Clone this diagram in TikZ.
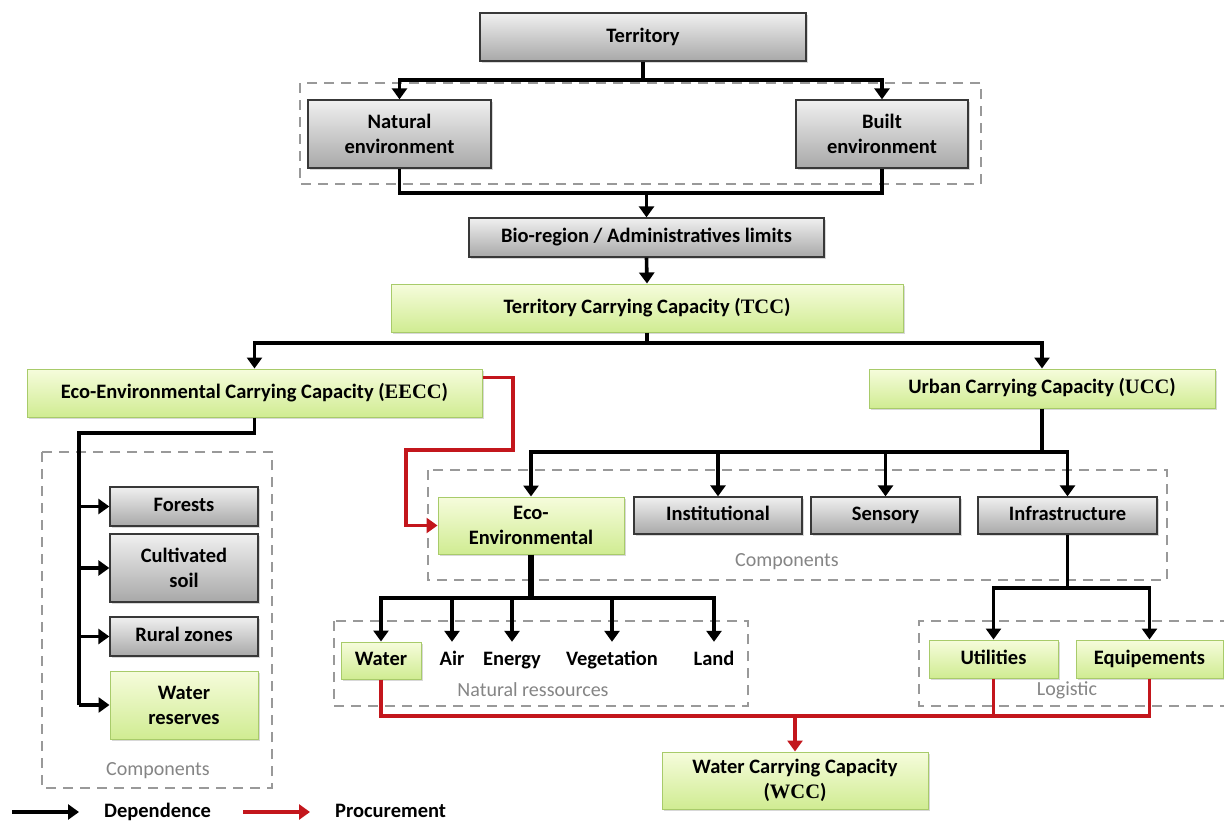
\documentclass[tikz,border=0pt]{standalone}
\usepackage{fontspec}
\setmainfont{Carlito}
\newfontfamily\serifacr{Liberation Serif}
\usetikzlibrary{arrows.meta,shadows}
\newcommand\acrn[1]{{\serifacr\bfseries #1}}
\definecolor{gtop}{HTML}{F0F0F0}
\definecolor{gbot}{HTML}{A8A8A8}
\definecolor{ltop}{HTML}{F6FCDC}
\definecolor{lbot}{HTML}{D0EC92}
\definecolor{lborder}{HTML}{A8CB6A}
\definecolor{redc}{HTML}{C3161C}
\definecolor{dashc}{HTML}{999999}
\begin{document}
\begin{tikzpicture}[x=1pt,y=-1pt,
 boxbase/.style={rectangle, inner sep=0pt, align=center, font=\fontsize{20.5}{25}\selectfont\bfseries, text=black},
 oneline/.style={text height=14pt, text depth=4pt},
 shad/.style={drop shadow={opacity=0.3,shadow xshift=2pt,shadow yshift=-2pt}},
 graybox/.style={boxbase, shad, draw=black!78, line width=1.3pt, top color=gtop, bottom color=gbot},
 greenbox/.style={boxbase, shad, draw=lborder, line width=1pt, top color=ltop, bottom color=lbot},
 txt/.style={boxbase, oneline},
 conn/.style={line width=3.6pt, black},
 dep/.style={conn, -{Triangle[width=15pt,length=11pt]}},
 redline/.style={line width=3.3pt, redc},
 proc/.style={redline, -{Triangle[width=15pt,length=11pt]}},
 grp/.style={draw=dashc, line width=2.4pt, dash pattern=on 10pt off 7pt},
 grplabel/.style={font=\fontsize{20}{24}\selectfont, text=black!48},
]
\useasboundingbox (0,0) rectangle (1224,825);
\fill[white] (0,0) rectangle (1224,825);

% dashed groups
\draw[grp] (300,83) rectangle (981,184);
\draw[grp] (42,452) rectangle (272,788);
\draw[grp] (428,470) rectangle (1167,580);
\draw[grp] (334,621) rectangle (748,706);
\draw[grp] (1230,621) -- (919,621) -- (919,706) -- (1230,706);

% group labels
\node[grplabel] (lblcomp1) at (158,771) {Components};
\node[grplabel] (lblcomp2) at (787,562) {Components};
\node[grplabel] (lblnat) at (533,690) {Natural ressources};
\node[grplabel] (lbllog) at (1067,690) {Logistic};

% boxes
\node[graybox, oneline, minimum width=326, minimum height=48] (terr) at (643,37) {Territory};
\node[graybox, minimum width=183, minimum height=68] (nat) at (399.5,134) {Natural\\environment};
\node[graybox, minimum width=172, minimum height=68] (built) at (882,134) {Built\\environment};
\node[graybox, oneline, minimum width=355, minimum height=39] (bio) at (646.5,237.5) {Bio-region / Administratives limits};
\node[greenbox, oneline, minimum width=512, minimum height=48] (tcc) at (647,308) {Territory Carrying Capacity (\acrn{TCC})};
\node[greenbox, oneline, minimum width=455, minimum height=48] (eecc) at (254.5,393) {Eco-Environmental Carrying Capacity (\acrn{EECC})};
\node[greenbox, oneline, minimum width=346, minimum height=39] (ucc) at (1042,388.5) {Urban Carrying Capacity (\acrn{UCC})};

\node[graybox, oneline, minimum width=148, minimum height=39] (forests) at (184,506.5) {Forests};
\node[graybox, minimum width=148, minimum height=68] (cult) at (184,568) {Cultivated\\soil};
\node[graybox, oneline, minimum width=148, minimum height=39] (rural) at (184,636.5) {Rural zones};
\node[greenbox, minimum width=148, minimum height=68] (wres) at (184,705) {Water\\reserves};

\node[greenbox, minimum width=186, minimum height=57] (eco) at (531,525.5) {Eco-\\Environmental};
\node[graybox, oneline, minimum width=168, minimum height=37] (inst) at (718,515.5) {Institutional};
\node[graybox, oneline, minimum width=149, minimum height=37] (sens) at (885.5,515.5) {Sensory};
\node[graybox, oneline, minimum width=179, minimum height=37] (infra) at (1067.5,515.5) {Infrastructure};

\node[greenbox, oneline, minimum width=80, minimum height=37] (water) at (381,660.5) {Water};
\node[txt, minimum height=37] (air) at (452,660.5) {Air};
\node[txt, minimum height=37] (energy) at (512,660.5) {Energy};
\node[txt, minimum height=37] (veg) at (612,660.5) {Vegetation};
\node[txt, minimum height=37] (land) at (714,660.5) {Land};

\node[greenbox, oneline, minimum width=129, minimum height=38] (util) at (993.5,659) {Utilities};
\node[greenbox, oneline, minimum width=147, minimum height=38] (equip) at (1149.5,659) {Equipements};

\node[greenbox, minimum width=266, minimum height=57] (wcc) at (795,780.5) {Water Carrying Capacity\\(\acrn{WCC})};

% connectors: top
\coordinate (t1) at (643,80);
\draw[conn] (terr.south) -- (t1);
\draw[dep] (t1) -| (nat.north);
\draw[dep] (t1) -| (built.north);
\coordinate (m1) at (646.5,193);
\draw[conn] (nat.south) |- (m1) -| (built.south);
\draw[dep] (m1) -- (bio.north);
\draw[dep] (bio.south) -- (tcc.north);
\coordinate (t2) at (647,343);
\draw[conn] (tcc.south) -- (t2);
\draw[dep] (t2) -| (eecc.north);
\draw[dep] (t2) -| (ucc.north);

% EECC components
\coordinate (lv) at (79,433);
\draw[conn] (eecc.south) |- (lv) -- (lv |- wres.west);
\draw[dep] (lv |- forests.west) -- (forests.west);
\draw[dep] (lv |- cult.west) -- (cult.west);
\draw[dep] (lv |- rural.west) -- (rural.west);
\draw[dep] (lv |- wres.west) -- (wres.west);

% procurement EECC -> Eco-Environmental
\coordinate (r1) at (513,450);
\coordinate (r2) at (406,525.5);
\draw[proc] ([yshift=-9pt]eecc.north east) -| (r1) -| (r2) -- (eco.west);

% UCC components
\coordinate (u1) at (1042,452);
\draw[conn] (ucc.south) -- (u1);
\draw[dep] (u1) -| (eco.north);
\draw[dep] (u1) -| (inst.north);
\draw[dep] (u1) -| (sens.north);
\draw[dep] (u1) -| (infra.north);

% natural resources
\coordinate (e1) at (531,598);
\draw[line width=5.5pt] (eco.south) -- (e1);
\draw[dep] (e1) -| (water.north);
\draw[dep] (e1) -| (air.north);
\draw[dep] (e1) -| (energy.north);
\draw[dep] (e1) -| (veg.north);
\draw[dep] (e1) -| (land.north);

% logistic
\coordinate (i1) at (1067.5,588);
\draw[conn] (infra.south) -- (i1);
\draw[dep] (i1) -| (util.north);
\draw[dep] (i1) -| (equip.north);

% procurement to WCC
\coordinate (w1) at (795,716);
\draw[redline] (water.south) |- (w1);
\draw[redline] (equip.south) |- (w1);
\draw[redline] (util.south) -- (util.south |- w1);
\draw[proc] (w1) -- (wcc.north);

% legend
\coordinate (la) at (12,812);
\coordinate (lb) at (79,812);
\coordinate (lc) at (243,812);
\coordinate (ld) at (310,812);
\draw[dep] (la) -- (lb);
\draw[proc] (lc) -- (ld);
\node[txt, anchor=west] (ldep) at (104,812) {Dependence};
\node[txt, anchor=west] (lproc) at (335,812) {Procurement};
\end{tikzpicture}
\end{document}
